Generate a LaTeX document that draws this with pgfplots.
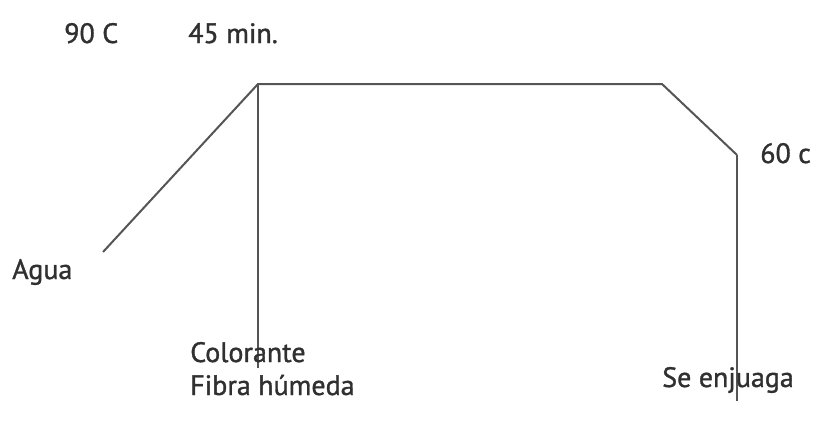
\documentclass[border=0pt]{standalone}
\usepackage{pgfplots}
\pgfplotsset{compat=1.18}
\usepackage{fontspec}
\setmainfont{PT Sans}[FakeBold=1.2]
\definecolor{ln}{HTML}{555555}
\definecolor{tx}{HTML}{303030}
\begin{document}
\begin{tikzpicture}
\begin{axis}[
  x=0.75pt, y=0.75pt,
  xmin=0, xmax=816, ymin=0, ymax=425,
  y dir=reverse,
  hide axis, clip=false,
]
\addplot[ln, line width=1.5pt, no marks] coordinates {(103,252) (258,84) (662,84) (737,155)};
\addplot[ln, line width=1.5pt, no marks] coordinates {(258,84) (258,368)};
\addplot[ln, line width=1.5pt, no marks] coordinates {(737,155) (737,401)};
\begin{scope}[every node/.style={text=tx, font=\fontsize{21}{25}\selectfont, inner sep=0pt, anchor=base west}]
\node at (axis cs:64,43) {90 C};
\node at (axis cs:188,43) {45 min.};
\node at (axis cs:760,163) {60 c};
\node at (axis cs:12,279) {Agua};
\node at (axis cs:190,362) {Colorante};
\node at (axis cs:190,395) {Fibra húmeda};
\node at (axis cs:662,387) {Se enjuaga};
\end{scope}
\path (rel axis cs:0,0) coordinate (BL) (rel axis cs:1,1) coordinate (TR);
\end{axis}
\pgfresetboundingbox
\useasboundingbox (BL) rectangle (TR);
\end{tikzpicture}
\end{document}
